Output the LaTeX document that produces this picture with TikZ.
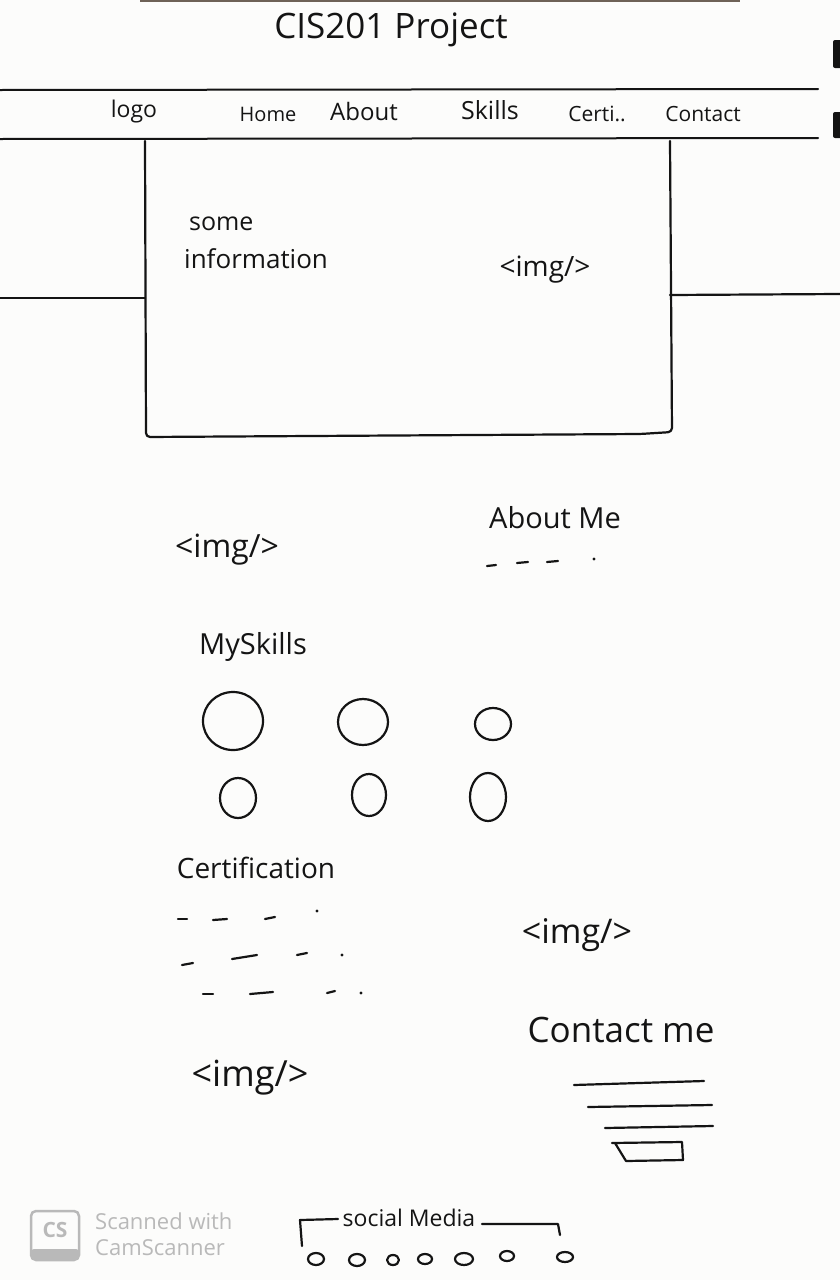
\documentclass[tikz,border=0pt]{standalone}
\usepackage{fontspec}
\setmainfont{Open Sans}
\definecolor{inkc}{HTML}{141414}
\definecolor{paper}{HTML}{FCFCFB}
\definecolor{camgray}{HTML}{B9B9B9}
\definecolor{bandc}{HTML}{6E6257}
\begin{document}
\begin{tikzpicture}[x=1pt,y=-1pt,
  ink/.style={line width=2.2pt, draw=inkc, line cap=round, line join=round},
  hand/.style={text=inkc, inner sep=0pt, font=\fontsize{#1}{#1}\selectfont},
  cam/.style={text=camgray, inner sep=0pt, anchor=west, font=\fontsize{22}{22}\selectfont}]
\fill[paper] (0,0) rectangle (840,1280);
\useasboundingbox (0,0) rectangle (840,1280);
% scan artefacts
\fill[bandc] (140,0) rectangle (740,2);
\fill[inkc, rounded corners=2pt] (833,40) rectangle (843,68);
\fill[inkc, rounded corners=2pt] (833,112) rectangle (843,138);
% title
\node[hand=35] (title) at (391,30) {CIS201 Project};
% navigation bar
\draw[ink, line width=2pt] (0,90) -- (818,89);
\draw[ink, line width=2pt] (0,139) -- (818,138);
\node[hand=23] (nlogo) at (134,112) {logo};
\node[hand=20] (nhome) at (268,114) {Home};
\node[hand=24] (nabout) at (364,111) {About};
\node[hand=25] (nskills) at (490,110) {Skills};
\node[hand=21] (ncerti) at (597,114) {Certi..};
\node[hand=21] (ncontact) at (703,114) {Contact};
% hero box
\draw[ink, rounded corners=4pt] (145,141) -- (146,437) -- (640,434) -- (672,432) -- (670,141);
\draw[ink] (0,298) -- (145,298);
\draw[ink] (670,295) -- (840,294);
\node[hand=25, anchor=west] (some) at (189,224) {some};
\node[hand=26, anchor=west] (info) at (184,259) {information};
\node[hand=28] (heroimg) at (545,270) {<img/>};
% about
\node[hand=32] (aboutimg) at (227,550) {<img/>};
\node[hand=29] (aboutme) at (555,518) {About Me};
\draw[ink] (487,566) -- (496,565);
\draw[ink] (517,563) -- (528,562);
\draw[ink] (547,562) -- (558,561);
\fill[inkc] (594,559) circle (1.6);
% skills
\node[hand=29] (myskills) at (253,647) {MySkills};
\draw[ink] (233,721) ellipse [x radius=30, y radius=29];
\draw[ink] (363,722) ellipse [x radius=25, y radius=23];
\draw[ink] (493,724) ellipse [x radius=18, y radius=16];
\draw[ink] (238,798) ellipse [x radius=18, y radius=20];
\draw[ink] (369,795) ellipse [x radius=17, y radius=21];
\draw[ink] (488,797) ellipse [x radius=18, y radius=24];
% certification
\node[hand=28] (certif) at (256,868) {Certification};
\draw[ink] (178,919) -- (187,919);
\draw[ink] (213,920) -- (227,919);
\draw[ink] (265,919) -- (275,917);
\fill[inkc] (317,911) circle (1.6);
\draw[ink] (182,965) -- (193,963);
\draw[ink] (232,959) -- (257,955);
\draw[ink] (297,955) -- (307,953);
\fill[inkc] (342,955) circle (1.6);
\draw[ink] (203,994) -- (213,994);
\draw[ink] (250,994) -- (273,992);
\draw[ink] (327,993) -- (335,991);
\fill[inkc] (361,993) circle (1.6);
\node[hand=34] (certimg) at (577,935) {<img/>};
\node[hand=36] (footimg) at (250,1078) {<img/>};
% contact
\node[hand=35] (contactme) at (621,1030) {Contact me};
\draw[ink] (574,1085) -- (704,1081);
\draw[ink] (588,1107) -- (712,1105);
\draw[ink] (605,1128) -- (713,1126);
\draw[ink] (612,1143) -- (682,1142) -- (683,1160) -- (626,1161) -- (615,1143);
% social media
\node[hand=23] (social) at (409,1218) {social Media};
\draw[ink] (338,1219) -- (300,1220) -- (302,1246);
\draw[ink] (482,1224) -- (558,1224) -- (560,1235);
\draw[ink] (316,1259) ellipse [x radius=8, y radius=6];
\draw[ink] (357,1260) ellipse [x radius=8, y radius=6];
\draw[ink] (393,1260) ellipse [x radius=6, y radius=5];
\draw[ink] (425,1259) ellipse [x radius=7, y radius=5];
\draw[ink] (464,1259) ellipse [x radius=9, y radius=6];
\draw[ink] (507,1256) ellipse [x radius=7, y radius=5];
\draw[ink] (565,1257) ellipse [x radius=8, y radius=5];
% scanner watermark
\draw[camgray, line width=2.5pt, rounded corners=5pt] (31,1211) rectangle (79,1260);
\fill[camgray, rounded corners=3pt] (31,1249) rectangle (79,1260);
\node[text=camgray, inner sep=0pt, font=\bfseries\fontsize{21}{21}\selectfont] (camlogo) at (55,1230) {CS};
\node[cam] (cam1) at (95,1221) {Scanned with};
\node[cam] (cam2) at (95,1248) {CamScanner};
\end{tikzpicture}
\end{document}
